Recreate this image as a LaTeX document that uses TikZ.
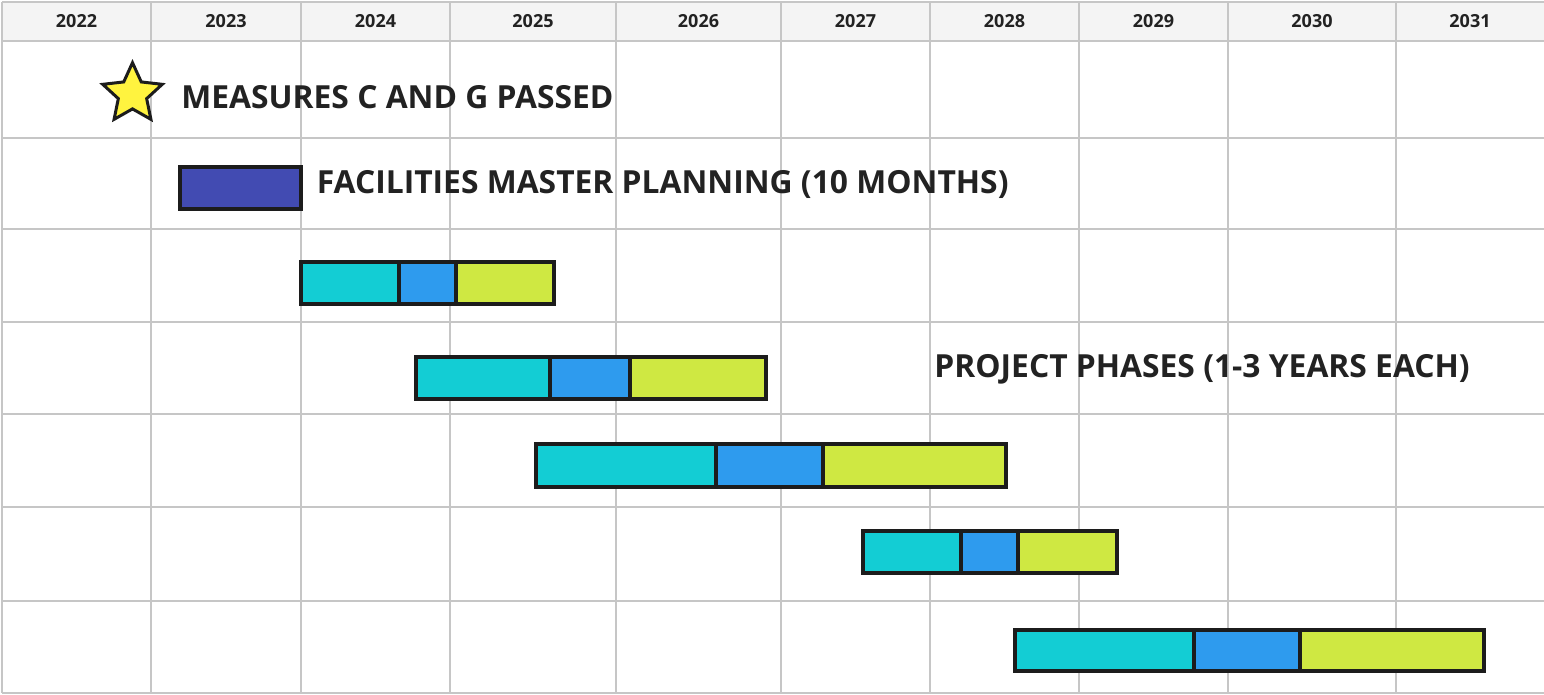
\documentclass[tikz,border=0pt]{standalone}
\usepackage{fontspec}
\setmainfont{Open Sans}
\usetikzlibrary{shapes.geometric}
\definecolor{gridC}{HTML}{C6C6C6}
\definecolor{headC}{HTML}{F4F4F4}
\definecolor{txtC}{HTML}{222222}
\definecolor{edgeC}{HTML}{1C1C1C}
\definecolor{planC}{HTML}{424BB2}
\definecolor{cyanP}{HTML}{13CDD4}
\definecolor{blueP}{HTML}{2E9BEE}
\definecolor{limeP}{HTML}{CFE842}
\definecolor{starC}{HTML}{FFF33F}
\begin{document}
\begin{tikzpicture}[x=0.5pt,y=-0.5pt,grid/.style={draw=gridC,line width=0.75pt},seg/.style={draw=edgeC,line width=1.75pt},lbl/.style={font=\bfseries\fontsize{15.9}{19}\selectfont,text=txtC,anchor=base west,inner sep=0pt},yr/.style={font=\bfseries\fontsize{9}{11}\selectfont,text=txtC,anchor=base,inner sep=0pt}]
\useasboundingbox (0,0) rectangle (1544,695);
\fill[white] (0,0) rectangle (1544,695);
\fill[headC] (2,2) rectangle (1544,41);

% grid
\foreach \y in {2,41,138,229,322,414,507,601,693}
  \draw[grid] (2,\y) -- (1544,\y);
\foreach \x in {2,151,301,450,616,781,930,1079,1228,1396}
  \draw[grid] (\x,2) -- (\x,693);

% years
\foreach \x/\yy in {76.5/2022,226/2023,375.5/2024,533/2025,698.5/2026,855.5/2027,1004.5/2028,1153.5/2029,1312/2030,1470/2031}
  \node[yr] (y\yy) at (\x,28) {\yy};

% milestone
\node[star,star points=5,star point ratio=2.1,minimum size=31.3pt,inner sep=0pt,fill=starC,draw=edgeC,line width=1.5pt] (star) at (132.5,94) {};
\node[lbl] (passed) at (181,108.5) {MEASURES C AND G PASSED};

% planning
\draw[seg,fill=planC] (180,167) rectangle (301,209);
\node[lbl] (plan) at (316.5,193.3) {FACILITIES MASTER PLANNING (10 MONTHS)};

% phases
\foreach \t/\b/\xa/\xb/\xc/\xd in {262/304/301/399/456/554,357/399/416/550/630/766,444/487/536/716/823/1006,531/573/863/961/1018/1117,630/671/1015/1194/1300/1484}{
  \fill[cyanP] (\xa,\t) rectangle (\xb,\b);
  \fill[blueP] (\xb,\t) rectangle (\xc,\b);
  \fill[limeP] (\xc,\t) rectangle (\xd,\b);
  \draw[seg] (\xa,\t) rectangle (\xd,\b) (\xb,\t) -- (\xb,\b) (\xc,\t) -- (\xc,\b);
}
\node[lbl] (phases) at (934,378) {PROJECT PHASES (1-3 YEARS EACH)};
\end{tikzpicture}
\end{document}
